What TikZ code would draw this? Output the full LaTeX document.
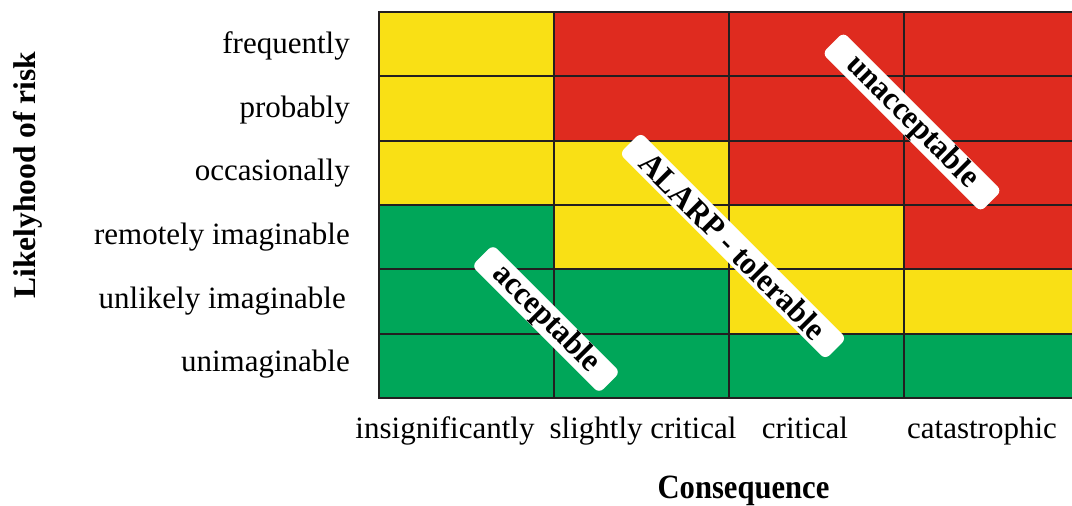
\documentclass[tikz,border=0pt]{standalone}
\usepackage{fontspec}
\setmainfont{Liberation Serif}
\newfontfamily\narrowserif[FakeStretch=0.9]{Liberation Serif}
\newfontfamily\zoneserif[FakeStretch=0.95]{Liberation Serif}
\definecolor{cellyellow}{HTML}{F9E015}
\definecolor{cellred}{HTML}{DF2B1F}
\definecolor{cellgreen}{HTML}{00A659}
\definecolor{gridink}{HTML}{231F20}
\begin{document}
\begin{tikzpicture}[x=1pt,y=-1pt,
  gridrule/.style={draw=gridink, line width=2pt},
  rowlabel/.style={anchor=base east, inner sep=0pt, font=\fontsize{31}{31}\selectfont},
  collabel/.style={anchor=base, inner sep=0pt, font=\fontsize{31}{31}\selectfont},
  axistitle/.style={anchor=base, inner sep=0pt, font=\bfseries\fontsize{31.5}{31.5}\selectfont},
  verdict/.style={fill=white, rounded corners=6pt, rotate=-45, inner sep=0pt,
    minimum height=30pt, font=\zoneserif\bfseries\fontsize{32.5}{32.5}\selectfont}]
\clip (0,0) rectangle (1072,506);
\fill[white] (0,0) rectangle (1072,506);

% risk matrix cells, rows top (frequently) to bottom (unimaginable)
\def\rowh{64.333}
\foreach \cols [count=\r from 0] in {
    {cellyellow,cellred,cellred,cellred},
    {cellyellow,cellred,cellred,cellred},
    {cellyellow,cellyellow,cellred,cellred},
    {cellgreen,cellyellow,cellyellow,cellred},
    {cellgreen,cellgreen,cellyellow,cellyellow},
    {cellgreen,cellgreen,cellgreen,cellgreen}}{
  \foreach \c [count=\k from 0] in \cols {
    \fill[\c] ({379+175*\k},{12+\rowh*\r}) rectangle ({554+175*\k},{12+\rowh*(\r+1)});
  }
}

% grid rules
\foreach \r in {1,...,5}
  \draw[gridrule] (379,{12+\rowh*\r}) -- (1079,{12+\rowh*\r});
\foreach \k in {1,2,3}
  \draw[gridrule] ({379+175*\k},12) -- ({379+175*\k},398);
\draw[gridrule] (379,12) rectangle (1079,398);

% likelihood labels
\node[rowlabel] (l1) at (350,53.3) {frequently};
\node[rowlabel] (l2) at (350,117) {probably};
\node[rowlabel] (l3) at (350,180.5) {occasionally};
\node[rowlabel] (l4) at (350,244) {remotely imaginable};
\node[rowlabel] (l5) at (346,308.5) {unlikely imaginable};
\node[rowlabel] (l6) at (350,371.5) {unimaginable};

% consequence labels
\node[collabel] (c1) at (445,438.5) {insignificantly};
\node[collabel] (c2) at (643,438.5) {slightly critical};
\node[collabel] (c3) at (805,438.5) {critical};
\node[collabel] (c4) at (982,438.5) {catastrophic};

% axis titles
\node[axistitle, font=\narrowserif\bfseries\fontsize{34}{34}\selectfont] (xtitle) at (743.5,498.5) {Consequence};
\node[axistitle, rotate=90] (ytitle) at (35.5,175) {Likelyhood of risk};

% zone labels
\node[verdict, minimum width=224pt] (unacc) at (912,122) {unacceptable};
\node[verdict, minimum width=291pt] (alarp) at (733,246) {ALARP - tolerable};
\node[verdict, minimum width=180pt] (acc) at (546,319) {acceptable};
\end{tikzpicture}
\end{document}
